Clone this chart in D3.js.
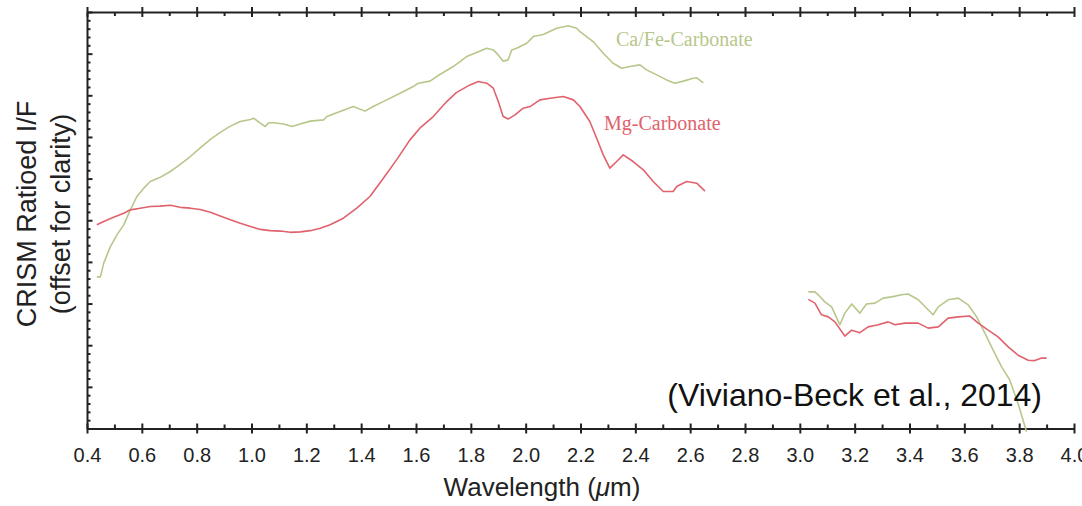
<!DOCTYPE html>
<html>
<head>
<meta charset="utf-8">
<script src="https://cdn.jsdelivr.net/npm/d3@7"></script>
<style>
  html, body { margin: 0; padding: 0; background: #fff; }
  svg { display: block; }
</style>
</head>
<body>
<svg id="chart" width="1082" height="506"></svg>
<script>
// ---- Data (wavelength in µm, ratioed I/F with offset, arbitrary units) ----
const caFeWavelengthA = [0.436,0.449,0.461,0.485,0.509,0.534,0.558,0.582,0.607,0.631,0.667,0.704,0.740,0.777,0.813,0.850,0.886,0.923,0.959,0.996,1.008,1.032,1.050,1.063,1.081,1.117,1.148,1.178,1.214,1.263,1.275,1.306,1.323,1.371,1.414,1.444,1.493,1.542,1.590,1.608,1.651,1.687,1.736,1.785,1.821,1.858,1.882,1.900,1.918,1.936,1.949,1.967,2.004,2.028,2.064,2.113,2.155,2.186,2.198,2.246,2.283,2.319,2.350,2.380,2.417,2.441,2.478,2.514,2.544,2.575,2.611,2.624,2.648];
const caFeValueA = [0.364,0.364,0.397,0.436,0.465,0.489,0.525,0.557,0.577,0.593,0.603,0.617,0.634,0.653,0.674,0.694,0.711,0.726,0.737,0.742,0.745,0.733,0.725,0.734,0.734,0.731,0.725,0.731,0.738,0.741,0.749,0.757,0.761,0.773,0.762,0.773,0.789,0.805,0.821,0.829,0.834,0.850,0.869,0.893,0.903,0.913,0.909,0.897,0.882,0.885,0.909,0.913,0.925,0.941,0.946,0.961,0.967,0.961,0.953,0.929,0.901,0.877,0.865,0.869,0.873,0.861,0.849,0.837,0.829,0.834,0.841,0.842,0.830];
const caFeWavelengthB = [3.031,3.055,3.067,3.091,3.116,3.146,3.164,3.189,3.219,3.243,3.274,3.304,3.335,3.371,3.395,3.432,3.468,3.486,3.505,3.541,3.578,3.614,3.645,3.675,3.705,3.736,3.766,3.796,3.827];
const caFeValueB = [0.328,0.328,0.321,0.304,0.292,0.249,0.277,0.299,0.277,0.299,0.301,0.313,0.316,0.321,0.323,0.309,0.285,0.273,0.292,0.309,0.313,0.297,0.268,0.229,0.188,0.148,0.116,0.060,-0.008];

const mgWavelengthA = [0.436,0.461,0.497,0.534,0.558,0.594,0.631,0.667,0.704,0.740,0.777,0.813,0.850,0.886,0.923,0.959,0.996,1.032,1.068,1.105,1.141,1.178,1.214,1.251,1.287,1.335,1.384,1.432,1.481,1.529,1.578,1.614,1.663,1.712,1.748,1.797,1.827,1.858,1.882,1.900,1.918,1.936,1.961,1.991,2.016,2.052,2.089,2.137,2.174,2.198,2.234,2.259,2.283,2.307,2.332,2.356,2.392,2.429,2.465,2.502,2.538,2.551,2.587,2.624,2.654];
const mgValueA = [0.489,0.497,0.507,0.517,0.525,0.529,0.533,0.534,0.536,0.531,0.529,0.526,0.519,0.510,0.501,0.493,0.485,0.478,0.475,0.474,0.471,0.472,0.475,0.481,0.489,0.505,0.529,0.557,0.601,0.645,0.693,0.721,0.749,0.785,0.807,0.825,0.833,0.829,0.817,0.785,0.749,0.743,0.753,0.769,0.773,0.789,0.793,0.797,0.789,0.773,0.737,0.697,0.657,0.625,0.641,0.657,0.641,0.621,0.593,0.569,0.569,0.581,0.593,0.589,0.570];
const mgWavelengthB = [3.031,3.055,3.079,3.104,3.128,3.164,3.189,3.219,3.249,3.286,3.322,3.347,3.383,3.432,3.468,3.505,3.541,3.578,3.620,3.651,3.687,3.723,3.760,3.796,3.833,3.857,3.882,3.900];
const mgValueB = [0.310,0.301,0.273,0.268,0.256,0.222,0.236,0.230,0.244,0.249,0.256,0.249,0.253,0.253,0.241,0.244,0.265,0.268,0.270,0.253,0.236,0.220,0.196,0.176,0.164,0.163,0.169,0.169];

const xMajorTicks = [0.4,0.6,0.8,1.0,1.2,1.4,1.6,1.8,2.0,2.2,2.4,2.6,2.8,3.0,3.2,3.4,3.6,3.8,4.0];
const xMinorTicks = [0.5,0.7,0.9,1.1,1.3,1.5,1.7,1.9,2.1,2.3,2.5,2.7,2.9,3.1,3.3,3.5,3.7,3.9];
const yMajorTicks = [0,0.1,0.2,0.3,0.4,0.5,0.6,0.7,0.8,0.9,1.0];
const yMinorTicks = [0.02,0.04,0.06,0.08,0.12,0.14,0.16,0.18,0.22,0.24,0.26,0.28,0.32,0.34,0.36,0.38,0.42,0.44,0.46,0.48,0.52,0.54,0.56,0.58,0.62,0.64,0.66,0.68,0.72,0.74,0.76,0.78,0.82,0.84,0.86,0.88,0.92,0.94,0.96,0.98];

const seriesNames = ["Ca/Fe-Carbonate", "Mg-Carbonate"];
const xTitle = "Wavelength (";
const yTitleLines = ["CRISM Ratioed I/F", "(offset for clarity)"];
const citation = "(Viviano-Beck et al., 2014)";

(function () {
// ---- Layout ----
const pLeft = 87, pRight = 1074, pTop = 12, pBottom = 428.5;
const green = "#b7c78c", red = "#e0626d";
const axisColor = "#222";

const svg = d3.select("#chart");
const x = d3.scaleLinear().domain([0.4, 4.0]).range([pLeft, pRight]);
const y = d3.scaleLinear().domain([0, 1]).range([pBottom, pTop]);

function styleAxis(g) {
  g.select(".domain").attr("stroke", axisColor).attr("stroke-width", 2);
  g.selectAll(".tick line").attr("stroke", axisColor).attr("stroke-width", 2);
}

// bottom axis: major ticks crossing the line, labelled
const bMajor = svg.append("g").attr("transform", `translate(0,${pBottom})`)
  .call(d3.axisBottom(x).tickValues(xMajorTicks).tickSize(5).tickSizeOuter(0)
    .tickPadding(14).tickFormat(d3.format(".1f")));
bMajor.selectAll(".tick line").attr("y1", -5).attr("y2", 5);
bMajor.selectAll(".tick text").attr("font-family", "Liberation Sans, Arial, sans-serif")
  .attr("font-size", 20).attr("fill", "#222");
styleAxis(bMajor);
const bMinor = svg.append("g").attr("transform", `translate(0,${pBottom})`)
  .call(d3.axisBottom(x).tickValues(xMinorTicks).tickSize(-4).tickSizeOuter(0).tickFormat(""));
bMinor.select(".domain").remove();
styleAxis(bMinor);

// top axis
const tMajor = svg.append("g").attr("transform", `translate(0,${pTop})`)
  .call(d3.axisTop(x).tickValues(xMajorTicks).tickSize(5).tickSizeOuter(0).tickFormat(""));
tMajor.selectAll(".tick line").attr("y1", -5).attr("y2", 5);
styleAxis(tMajor);
const tMinor = svg.append("g").attr("transform", `translate(0,${pTop})`)
  .call(d3.axisTop(x).tickValues(xMinorTicks).tickSize(-4).tickSizeOuter(0).tickFormat(""));
tMinor.select(".domain").remove();
styleAxis(tMinor);

// left axis: ticks inward
const lMajor = svg.append("g").attr("transform", `translate(${pLeft},0)`)
  .call(d3.axisLeft(y).tickValues(yMajorTicks).tickSize(-5.5).tickSizeOuter(0).tickFormat(""));
styleAxis(lMajor);
const lMinor = svg.append("g").attr("transform", `translate(${pLeft},0)`)
  .call(d3.axisLeft(y).tickValues(yMinorTicks).tickSize(-3.5).tickSizeOuter(0).tickFormat(""));
lMinor.select(".domain").remove();
styleAxis(lMinor);

// ---- Lines ----
const line = d3.line().x(d => x(d[0])).y(d => y(d[1]));
const zip = (a, b) => a.map((v, i) => [v, b[i]]);
const segments = [
  { pts: zip(caFeWavelengthA, caFeValueA), color: green },
  { pts: zip(caFeWavelengthB, caFeValueB), color: green },
  { pts: zip(mgWavelengthA, mgValueA), color: red },
  { pts: zip(mgWavelengthB, mgValueB), color: red }
];
svg.append("g").selectAll("path").data(segments).join("path")
  .attr("d", d => line(d.pts))
  .attr("fill", "none")
  .attr("stroke", d => d.color)
  .attr("stroke-width", 1.6)
  .attr("stroke-linejoin", "round");

// ---- Series labels ----
svg.append("text").attr("x", 616).attr("y", 46)
  .attr("font-family", "Liberation Serif, Times New Roman, serif").attr("font-size", 20)
  .attr("fill", green).text(seriesNames[0]);
svg.append("text").attr("x", 604).attr("y", 130)
  .attr("font-family", "Liberation Serif, Times New Roman, serif").attr("font-size", 20)
  .attr("fill", red).text(seriesNames[1]);

// ---- Citation ----
svg.append("text").attr("x", 1042).attr("y", 406).attr("text-anchor", "end")
  .attr("font-family", "Liberation Sans, Arial, sans-serif").attr("font-size", 32)
  .attr("fill", "#111").text(citation);

// ---- Axis titles ----
const xt = svg.append("text").attr("x", 542).attr("y", 496).attr("text-anchor", "middle")
  .attr("font-family", "Liberation Sans, Arial, sans-serif").attr("font-size", 26).attr("fill", "#222");
xt.append("tspan").text(xTitle);
xt.append("tspan").attr("font-style", "italic").text("\u03bc");
xt.append("tspan").text("m)");

yTitleLines.forEach((t, i) => {
  svg.append("text")
    .attr("transform", `translate(${i === 0 ? 36 : 70},214) rotate(-90)`)
    .attr("text-anchor", "middle")
    .attr("font-family", "Liberation Sans, Arial, sans-serif").attr("font-size", 27)
    .attr("fill", "#222").text(t);
});
})();
</script>
</body>
</html>
